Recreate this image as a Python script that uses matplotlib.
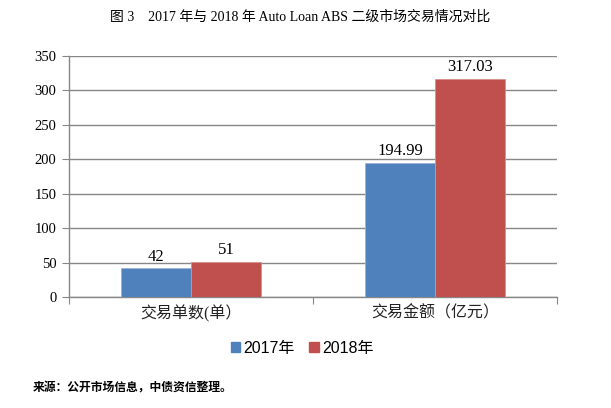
import numpy as np
import matplotlib.pyplot as plt
from matplotlib.patches import Patch

categories = ['交易单数(单）', '交易金额（亿元）']
series_names = ['2017年', '2018年']
values_2017 = [42, 194.99]
values_2018 = [51, 317.03]
labels_2017 = ['42', '194.99']
labels_2018 = ['51', '317.03']
yticks = [0, 50, 100, 150, 200, 250, 300, 350]

serif = ['Liberation Serif', 'Noto Sans CJK SC']
sans = ['Liberation Sans', 'Noto Sans CJK SC']
colors = ['#4F81BD', '#C0504D']
grey = '#878787'

fig = plt.figure(figsize=(6.11, 4.08), dpi=100)
ax = fig.add_axes([69/611, 1-297/408, 488/611, 241/408])

x = np.arange(len(categories))
w = 70/244
b1 = ax.bar(x - w/2, values_2017, width=w, color=colors[0], edgecolor='#9DB3D6', linewidth=0.6, zorder=3)
b2 = ax.bar(x + w/2, values_2018, width=w, color=colors[1], edgecolor='#D98E8C', linewidth=0.6, zorder=3)

for bars, labs in [(b1, labels_2017), (b2, labels_2018)]:
    for r, lab in zip(bars, labs):
        ax.text(r.get_x() + r.get_width()/2, r.get_height() + 5, lab, ha='center', va='bottom',
                fontsize=12, family=serif)

ax.set_xlim(-0.5, 1.5)
ax.set_ylim(0, 350)
ax.set_yticks(yticks)
ax.set_yticklabels([str(t) for t in yticks], family=serif, fontsize=10.5)
ax.yaxis.grid(True, color=grey, linewidth=1, zorder=0)
ax.set_axisbelow(True)

ax.set_xticks([-0.5, 0.5, 1.5])
ax.set_xticklabels([])
ax.set_xticks(x, minor=True)
ax.set_xticklabels(categories, minor=True, family=serif, fontsize=11.5, color='#222222')
ax.tick_params(axis='x', which='minor', length=0, pad=6)
ax.tick_params(axis='x', which='major', length=5, color=grey, direction='out')
ax.tick_params(axis='y', length=5, color=grey, pad=4)

for s in ['top', 'right']:
    ax.spines[s].set_visible(False)
for s in ['left', 'bottom']:
    ax.spines[s].set_color(grey)
    ax.spines[s].set_linewidth(1)

handles = [Patch(color=colors[0]), Patch(color=colors[1])]
fig.legend(handles, series_names, loc='center', bbox_to_anchor=(302/611, 1-348/408), ncol=2,
           frameon=False, prop={'family': sans, 'size': 11.5}, handlelength=0.6, handleheight=0.6,
           handletextpad=0.2, columnspacing=0.9)

fig.text(300/611, 1-17/408, '图 3　2017 年与 2018 年 Auto Loan ABS 二级市场交易情况对比', ha='center', va='center',
         family=serif, fontsize=10)
fig.text(33/611, 1-388/408, '来源：公开市场信息，中债资信整理。', ha='left', va='center',
         family=['Noto Sans CJK SC'], fontsize=8.5, fontweight='bold')

fig.savefig('out.png', dpi=100)
